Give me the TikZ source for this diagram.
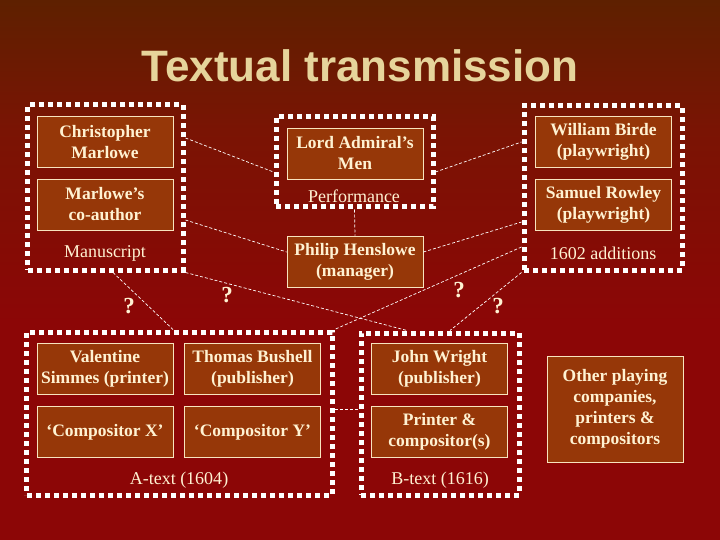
\documentclass[tikz,border=0pt]{standalone}
\usepackage{fontspec}
\setmainfont{Liberation Serif}
\newfontfamily\titlefont{Liberation Sans}
\usetikzlibrary{calc}
\definecolor{bgtop}{RGB}{94,32,0}
\definecolor{bgmid}{RGB}{122,20,4}
\definecolor{bgbot}{RGB}{140,6,6}
\definecolor{boxfill}{RGB}{150,55,8}
\definecolor{boxline}{RGB}{248,228,190}
\definecolor{cream}{RGB}{255,242,210}
\definecolor{titlecol}{RGB}{230,212,155}
\pgfdeclareverticalshading{bgsh}{100bp}{color(0bp)=(bgbot); color(45bp)=(bgbot); color(63bp)=(bgmid); color(75bp)=(bgtop); color(100bp)=(bgtop)}
\tikzset{
  inbox/.style={draw=boxline, line width=0.8bp, fill=boxfill, text=cream,
    font=\fontsize{17.5bp}{21bp}\selectfont\bfseries, align=center,
    minimum width=136bp, minimum height=51bp, inner sep=1bp},
  grp/.style={draw=white, line width=5bp, dash pattern=on 5bp off 4bp,
    inner sep=0pt},
  grplabel/.style={text=cream, font=\fontsize{18bp}{21bp}\selectfont, inner sep=0pt},
  qm/.style={text=cream, font=\fontsize{23bp}{26bp}\selectfont\bfseries, inner sep=0pt},
  conn/.style={draw=white, line width=0.7bp, dash pattern=on 3bp off 2bp}
}
\begin{document}
\begin{tikzpicture}[x=1bp,y=-1bp]
\useasboundingbox (0,0) rectangle (720,540);
\shade[shading=bgsh] (0,0) rectangle (720,540);

\node[text=titlecol, font=\titlefont\fontsize{44bp}{50bp}\selectfont\bfseries, inner sep=0pt] (title) at (360,66) {Textual transmission};

% groups
\node[grp, minimum width=155bp, minimum height=165bp] (ms) at (105.5,187.5) {};
\node[grp, minimum width=157bp, minimum height=90bp] (perf) at (354.5,162) {};
\node[grp, minimum width=158bp, minimum height=164bp] (add) at (603,188) {};
\node[grp, minimum width=305bp, minimum height=163bp] (atext) at (179.5,413.5) {};
\node[grp, minimum width=158bp, minimum height=162bp] (btext) at (440,414) {};

% boxes
\node[inbox] (cm) at (105,142) {Christopher\\Marlowe};
\node[inbox] (co) at (105,204.5) {Marlowe’s\\co-author};
\node[inbox] (lam) at (355,153.5) {Lord Admiral’s\\Men};
\node[inbox] (hen) at (355,261.5) {Philip Henslowe\\(manager)};
\node[inbox] (wb) at (603.5,141.5) {William Birde\\(playwright)};
\node[inbox] (sr) at (603.5,205) {Samuel Rowley\\(playwright)};
\node[inbox] (vs) at (105,368.5) {Valentine\\Simmes (printer)};
\node[inbox] (tb) at (252.5,368.5) {Thomas Bushell\\(publisher)};
\node[inbox] (cx) at (105,432) {‘Compositor X’};
\node[inbox] (cy) at (252.5,432) {‘Compositor Y’};
\node[inbox] (jw) at (439.5,368.5) {John Wright\\(publisher)};
\node[inbox] (pc) at (439.5,432) {Printer \&\\compositor(s)};
\node[inbox, minimum height=106bp] (oth) at (615,409) {Other playing\\companies,\\printers \&\\compositors};

% group labels
\node[grplabel] (lms) at (105,253) {Manuscript};
\node[grplabel] (lperf) at (354,196) {Performance};
\node[grplabel] (ladd) at (603,253) {1602 additions};
\node[grplabel] (la) at (179,480) {A-text (1604)};
\node[grplabel] (lb) at (440,480) {B-text (1616)};

% connectors
\draw[conn] ([yshift=49.5bp]ms.east) -- ([yshift=-10bp]perf.west);
\draw[conn] ([yshift=-32.5bp]ms.east) -- ([yshift=9.5bp]hen.west);
\draw[conn] ([yshift=-10bp]perf.east) -- ([yshift=46bp]add.west);
\draw[conn] ([yshift=9.5bp]hen.east) -- ([yshift=-34bp]add.west);
\draw[conn] (perf.south) -- (hen.north);
\draw[conn] (ms.south east) -- ([xshift=-33bp]btext.north);
\draw[conn] ([yshift=-59bp]add.west) -- (atext.north east);
\draw[conn] (add.south west) -- ([xshift=10bp]btext.north);
\draw[conn] ([xshift=7.5bp]ms.south) -- ([xshift=-6.5bp]atext.north);
\draw[conn] ([yshift=4bp]atext.east) -- ([yshift=4bp]atext.east -| btext.west);

% question marks
\node[qm] (q1) at (129,306) {?};
\node[qm] (q2) at (227,295) {?};
\node[qm] (q3) at (459,290) {?};
\node[qm] (q4) at (498,306) {?};
\end{tikzpicture}
\end{document}
